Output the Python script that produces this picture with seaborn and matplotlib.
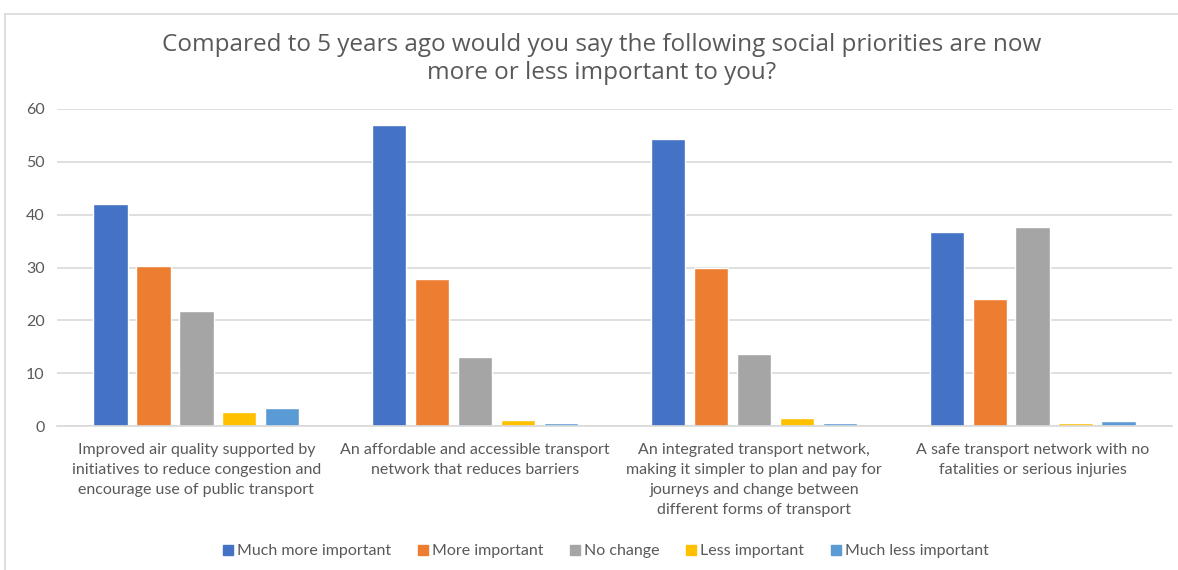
import matplotlib
matplotlib.use("Agg")
import matplotlib.pyplot as plt
import pandas as pd
import seaborn as sns
from matplotlib.lines import Line2D

# Survey categories (x axis) and answer series (hue)
categories = [
    "Improved air quality supported by\ninitiatives to reduce congestion and\nencourage use of public transport",
    "An affordable and accessible transport\nnetwork that reduces barriers",
    "An integrated transport network,\nmaking it simpler to plan and pay for\njourneys and change between\ndifferent forms of transport",
    "A safe transport network with no\nfatalities or serious injuries",
]
series_names = [
    "Much more important",
    "More important",
    "No change",
    "Less important",
    "Much less important",
]
much_more_important = [42.0, 56.9, 54.3, 36.7]
more_important = [30.2, 27.8, 29.9, 24.0]
no_change = [21.7, 13.1, 13.6, 37.6]
less_important = [2.65, 1.15, 1.5, 0.6]
much_less_important = [3.35, 0.6, 0.6, 0.95]
y_ticks = [0, 10, 20, 30, 40, 50, 60]

colors = ["#4472C4", "#ED7D31", "#A5A5A5", "#FFC000", "#5B9BD5"]
text_color = "#595959"
grid_color = "#D9D9D9"

series_values = [much_more_important, more_important, no_change,
                 less_important, much_less_important]
rows = []
for name, vals in zip(series_names, series_values):
    for cat, v in zip(categories, vals):
        rows.append({"category": cat, "answer": name, "value": v})
df = pd.DataFrame(rows)

sns.set_theme(style="white")
plt.rcParams["font.family"] = ["Lato", "DejaVu Sans"]

fig = plt.figure(figsize=(11.78, 5.70), dpi=100)
ax = fig.add_axes([57 / 1178, 1 - 426 / 570, (1172 - 57) / 1178, (426 - 109) / 570])

sns.barplot(data=df, x="category", y="value", hue="answer",
            order=categories, hue_order=series_names, palette=colors,
            width=0.77, gap=0.2, saturation=1, legend=False, ax=ax)

ax.set_ylim(0, 60)
ax.set_yticks(y_ticks)
ax.set_xlim(-0.5, len(categories) - 0.5)
ax.yaxis.grid(True, color=grid_color, linewidth=1.2)
ax.set_axisbelow(True)
for side in ["left", "right", "top"]:
    ax.spines[side].set_visible(False)
ax.spines["bottom"].set_color(grid_color)
ax.spines["bottom"].set_linewidth(1.2)
ax.set_xlabel("")
ax.set_ylabel("")
ax.tick_params(axis="both", length=0, colors=text_color, labelsize=11.5)
ax.tick_params(axis="x", pad=12)
ax.tick_params(axis="y", pad=9)
for lbl in ax.get_xticklabels():
    lbl.set_linespacing(1.55)
    lbl.set_va("top")

fig.text(0.511, 1 - 59 / 570,
         "Compared to 5 years ago would you say the following social priorities are now\n"
         "more or less important to you?",
         ha="center", va="center", fontsize=17.5, color=text_color, linespacing=1.2,
         family=["Open Sans", "DejaVu Sans"])

handles = [Line2D([0], [0], marker="s", linestyle="none", markersize=7,
                  markerfacecolor=c, markeredgecolor=c) for c in colors]
fig.legend(handles, series_names, loc="center", bbox_to_anchor=(0.513, 1 - 551 / 570),
           ncol=5, frameon=False, fontsize=11.5, labelcolor=text_color,
           handletextpad=0.05, columnspacing=1.5, handlelength=1.0)

# Chart-area frame
fig.add_artist(Line2D([5 / 1178, 5 / 1178], [0, 1 - 14 / 570], transform=fig.transFigure,
                      color=grid_color, linewidth=1.2))
fig.add_artist(Line2D([5 / 1178, 1], [1 - 14 / 570, 1 - 14 / 570], transform=fig.transFigure,
                      color=grid_color, linewidth=1.2))

fig.savefig("out.png", dpi=100, facecolor="white")
